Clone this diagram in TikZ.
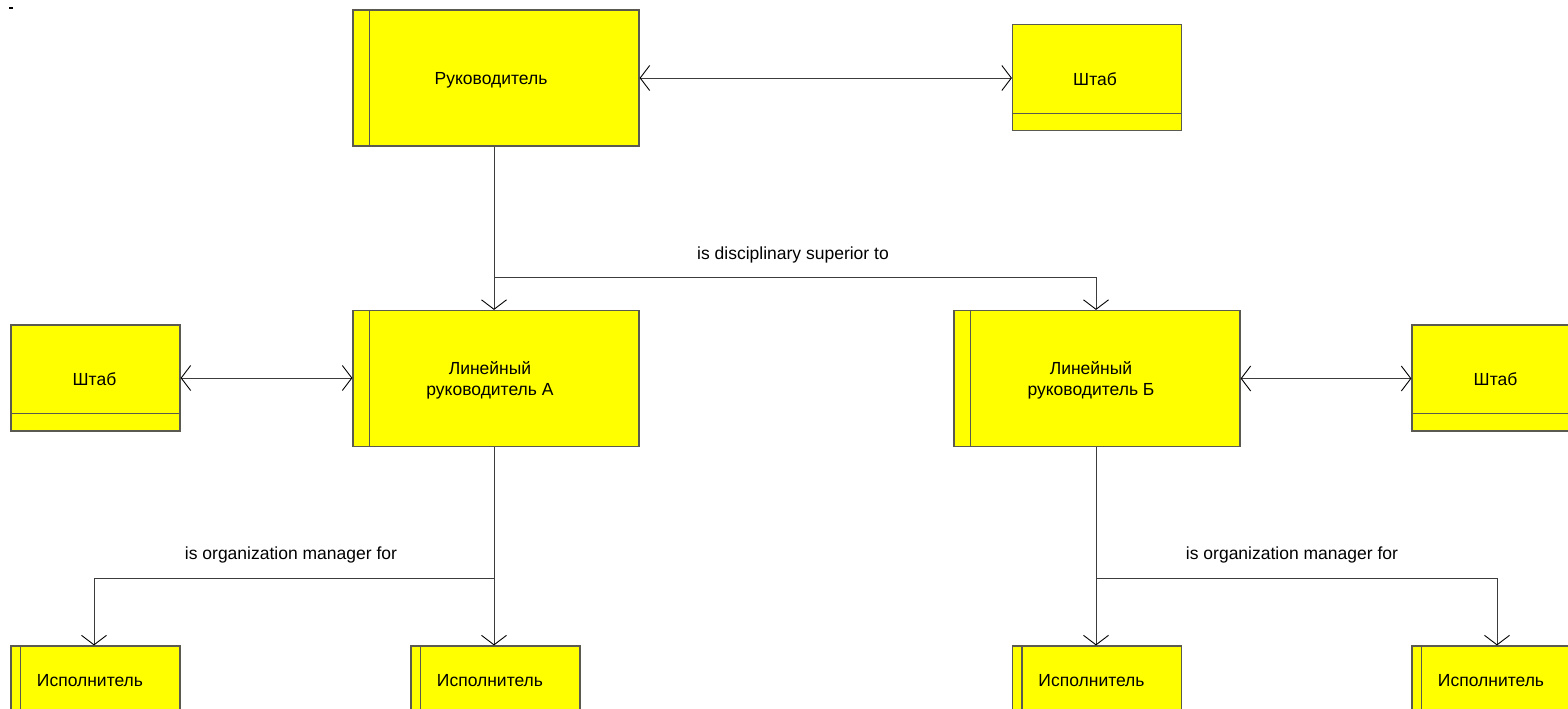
\documentclass[tikz,border=0pt]{standalone}
\usepackage{fontspec}
\setmainfont{Liberation Sans}
\usetikzlibrary{arrows.meta,calc}
\definecolor{boxfill}{HTML}{FFFF00}
\definecolor{boxline}{HTML}{5A5A50}
\definecolor{linecol}{HTML}{3C3C3C}
\begin{document}
\begin{tikzpicture}[x=1pt,y=-1pt,
  box/.style={draw=boxline, fill=boxfill, line width=1.2pt, inner sep=0pt},
  manager/.style={box, minimum width=286pt, minimum height=136pt},
  staff/.style={box, minimum width=169pt, minimum height=106pt},
  worker/.style={box, minimum width=169pt, minimum height=68pt},
  caption/.style={font=\fontsize{17.5}{21}\selectfont, align=center, inner sep=0pt},
  divider/.style={draw=boxline, line width=1.2pt},
  link/.style={draw=linecol, line width=1pt},
  barb/.tip={Straight Barb[length=9.5pt,width=25pt,color=black,line width=0.9pt]},
  tipend/.style={link, -barb},
  tipboth/.style={link, barb-barb},
  rel/.style={font=\fontsize{17.5}{21}\selectfont, inner sep=0pt}
]
\useasboundingbox (0,0) rectangle (1568,709);
\fill[white] (0,0) rectangle (1568,709);
\draw[line width=1.5pt] (9,8) -- (13,8);

% managers
\node[manager] (ruk)  at (496,78)    {};
\node[manager] (linA) at (496,378.5) {};
\node[manager] (linB) at (1097,378.5){};
\foreach \n in {ruk,linA,linB}
  \draw[divider] ([xshift=17pt]\n.north west) -- ([xshift=17pt]\n.south west);
\node[caption] (rukT)  at ($(ruk.center)+(-5,2)$)  {Руководитель};
\node[caption] (linAT) at ($(linA.center)+(-6,2)$) {Линейный\\руководитель А};
\node[caption] (linBT) at ($(linB.center)+(-6,2)$) {Линейный\\руководитель Б};

% staff units
\node[staff] (stT) at (1097,77.5) {};
\node[staff] (stL) at (95.5,378)  {};
\node[staff] (stR) at (1496.5,378){};
\foreach \n in {stT,stL,stR}
  \draw[divider] ([yshift=18pt]\n.south west) -- ([yshift=18pt]\n.south east);
\node[caption] (stTT) at ($(stT.center)+(-2,2)$) {Штаб};
\node[caption] (stLT) at ($(stL.center)+(-1,1.5)$) {Штаб};
\node[caption] (stRT) at ($(stR.center)+(-1,1.5)$) {Штаб};

% executors
\node[worker] (w1) at (95.5,680)  {};
\node[worker] (w2) at (495.5,680) {};
\node[worker] (w3) at (1097,680)  {};
\node[worker] (w4) at (1496.5,680){};
\foreach \n in {w1,w2,w3,w4}
  \draw[divider] ([xshift=10pt]\n.north west) -- ([xshift=10pt]\n.south west);
\foreach \n in {w1,w2,w3,w4}
  \node[caption] (\n T) at ($(\n.center)+(-5.5,1)$) {Исполнитель};

% staff links
\draw[tipboth] (ruk.east) -- (ruk.east -| stT.west);
\draw[tipboth] (stL.east) -- (stL.east -| linA.west);
\draw[tipboth] (linB.east) -- (linB.east -| stR.west);

% disciplinary line
\coordinate (j1) at ($(ruk.south)+(-2,131)$);
\draw[tipend] ($(ruk.south)+(-2,0)$) -- ($(linA.north)+(-2,0)$);
\draw[tipend] (j1) -| ($(linB.north)+(-1,0)$);
\node[rel] (lab1) at (793,255) {is disciplinary superior to};

% organization lines, branch A
\coordinate (jA) at ($(linA.south)+(-2,131)$);
\draw[tipend] ($(linA.south)+(-2,0)$) -- ($(w2.north)+(-1.5,0)$);
\draw[tipend] (jA) -| ($(w1.north)+(-1.5,0)$);
\node[rel] (labA) at (291,555) {is organization manager for};

% organization lines, branch B
\coordinate (jB) at ($(linB.south)+(-1,131)$);
\draw[tipend] ($(linB.south)+(-1,0)$) -- ($(w3.north)+(-1,0)$);
\draw[tipend] (jB) -| ($(w4.north)+(0.5,0)$);
\node[rel] (labB) at (1292,555) {is organization manager for};
\end{tikzpicture}
\end{document}
